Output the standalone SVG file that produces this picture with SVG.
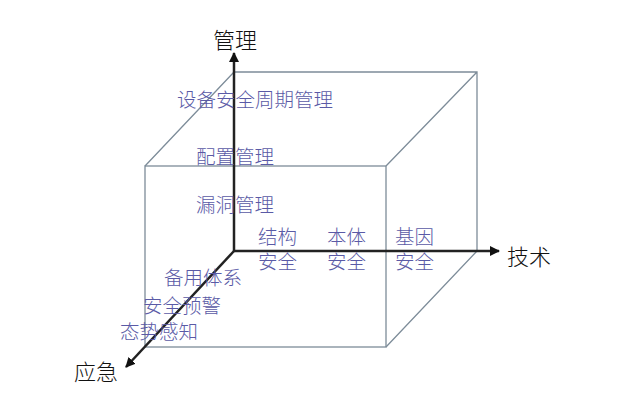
<svg xmlns="http://www.w3.org/2000/svg" width="640" height="404" viewBox="0 0 640 404">
<defs>
<marker id="ah" viewBox="0 0 10 10" refX="9" refY="5" markerWidth="4" markerHeight="4" markerUnits="strokeWidth" orient="auto">
<path d="M0,0 L10,5 L0,10 z" fill="#111"/>
</marker>
<style>
.cube{fill:none;stroke:#7d8c99;stroke-width:1.3}
.axis{fill:none;stroke:#222;stroke-width:2.5}
.lbl{font-family:"Liberation Serif","Noto Sans CJK SC",serif;font-size:22px;fill:#111;font-weight:300}
.blue{font-family:"Liberation Sans","Noto Sans CJK SC",sans-serif;font-size:19.5px;fill:#5a5aa6;font-weight:300}
</style>
</defs>
<rect width="640" height="404" fill="#fff"/>
<g id="cube">
<rect class="cube" x="145" y="166" width="241" height="181"/>
<path class="cube" d="M234,72 H477 V251 M145,166 L234,72 M386,166 L477,72 M386,347 L477,251"/>
</g>
<g id="connectors">
<line class="axis" x1="234" y1="251" x2="234" y2="53" marker-end="url(#ah)"/>
<line class="axis" x1="234" y1="251" x2="499" y2="251" marker-end="url(#ah)"/>
<line class="axis" x1="234" y1="251" x2="126" y2="367" marker-end="url(#ah)"/>
</g>
<g id="axis-labels">
<text class="lbl" x="235" y="48" text-anchor="middle">管理</text>
<text class="lbl" x="507" y="265">技术</text>
<text class="lbl" x="74" y="380">应急</text>
</g>
<g id="mgmt">
<text class="blue" x="177" y="107">设备安全周期管理</text>
<text class="blue" x="196" y="164">配置管理</text>
<text class="blue" x="196" y="212">漏洞管理</text>
</g>
<g id="tech">
<text class="blue" x="258" y="244">结构</text>
<text class="blue" x="258" y="269">安全</text>
<text class="blue" x="327" y="244">本体</text>
<text class="blue" x="327" y="269">安全</text>
<text class="blue" x="395" y="244">基因</text>
<text class="blue" x="395" y="269">安全</text>
</g>
<g id="emergency">
<text class="blue" x="164" y="285">备用体系</text>
<text class="blue" x="143" y="313">安全预警</text>
<text class="blue" x="120" y="339">态势感知</text>
</g>
</svg>
